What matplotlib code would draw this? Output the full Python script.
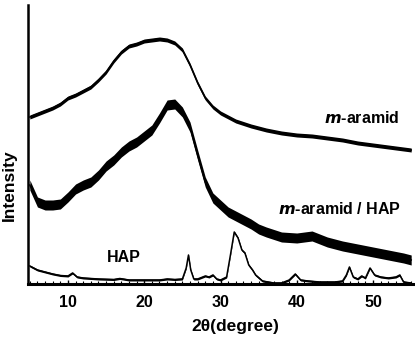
import numpy as np
import matplotlib
matplotlib.use('Agg')
import matplotlib.pyplot as plt
from matplotlib.ticker import MultipleLocator

plt.rcParams['font.family'] = ['Liberation Sans', 'DejaVu Sans']
plt.rcParams['font.weight'] = 'bold'

# XRD patterns (arbitrary intensity units)
two_theta_aramid = [5, 6, 7, 8, 9, 10, 11, 12, 13, 14, 15, 16, 17, 18, 19, 20,
                    21, 22, 23, 24, 25, 26, 27, 28, 29, 30, 32, 34, 36, 38, 40,
                    42, 44, 46, 48, 50, 52, 54, 55]
i_aramid = [167, 170, 173, 176, 180, 186, 189, 193, 197, 204, 212, 223, 232,
            238, 240, 243, 244, 245, 244, 241, 234, 219, 201, 186, 177, 171,
            163, 158, 154, 151, 149, 148, 146, 144, 141, 139, 137, 135, 134]

two_theta_blend = [5, 6, 7, 8, 9, 10, 11, 12, 13, 14, 15, 16, 17, 18, 19, 20,
                   21, 22, 23, 24, 25, 26, 27, 28, 29, 30, 31, 32, 33, 34, 35,
                   36, 38, 40, 42, 44, 46, 48, 50, 52, 54, 55]
i_blend = [99, 82, 79, 79, 80, 87, 95, 99, 102, 109, 118, 124, 132, 138, 142,
           148, 154, 166, 179, 180, 172, 157, 129, 102, 86, 79, 72, 68, 64, 60,
           55, 52, 47, 46, 48, 42, 38, 35, 32, 29, 26, 24]

two_theta_hap = [5, 6, 7, 8, 9, 10, 10.6, 11.2, 12, 14, 16, 16.8, 18, 20, 22,
                 23, 24, 25, 25.5, 25.8, 26.1, 26.5, 27, 28, 28.5, 29, 29.5,
                 30, 30.8, 31.3, 31.8, 32.3, 32.8, 33.2, 33.7, 34.2, 34.6, 35.5,
                 37, 38, 39, 39.8, 40.5, 41.5, 43, 45, 46, 46.5, 46.9, 47.4, 48,
                 48.5, 49, 49.6, 50.2, 51, 52, 53, 53.5, 54, 55]
i_hap = [18, 14, 12, 10, 8.5, 8, 11, 7, 6, 5, 4.5, 5.5, 4, 4, 4, 5, 4.5, 5,
         16, 29, 14, 5, 5, 8, 7, 9, 5, 4, 7, 29, 52, 46, 34, 31, 19, 14, 9, 3,
         1, 1, 4, 10, 4, 3, 2, 2, 3, 9, 17, 7, 5, 8, 6, 16, 9, 7, 6, 7, 9, 2, 1]

curves = [
    (two_theta_aramid, i_aramid, 2.0),
    (two_theta_blend, i_blend, 5.0),
    (two_theta_hap, i_hap, 1.0),
]

fig = plt.figure(figsize=(4.15, 3.37), dpi=100)
ax = fig.add_axes([28 / 415, 53 / 337, 387 / 415, 279 / 337])

for x, y, half in curves:
    x = np.array(x)
    y = np.array(y, dtype=float)
    ax.fill_between(x, y - half, y + half, color='black', lw=0)
    ax.plot(x, y, color='black', lw=1.1)

ax.set_xlim(4.76, 55.5)
ax.set_ylim(0, 279)

ax.spines['top'].set_visible(False)
ax.spines['right'].set_visible(False)
ax.spines['left'].set_linewidth(1.8)
ax.spines['bottom'].set_linewidth(2.2)
ax.set_yticks([])
ax.set_xticks([10, 20, 30, 40, 50])
ax.xaxis.set_minor_locator(MultipleLocator(1))
ax.tick_params(axis='x', which='major', direction='in', length=3, width=1,
               labelsize=11.5, pad=8)
ax.tick_params(axis='x', which='minor', direction='in', length=2, width=0.8)
for lab in ax.get_xticklabels():
    lab.set_fontweight('bold')

ax.set_xlabel('2\u03b8(degree)', fontsize=12.5, fontweight='bold', labelpad=5)
ax.xaxis.set_label_coords(0.535, -0.125)
ax.set_ylabel('Intensity', fontsize=12.5, fontweight='bold')
ax.yaxis.set_label_coords(-0.03, 0.355)

ax.text(48.5, 166, '$\\mathbf{\\mathit{m}}$-aramid', fontsize=11.5,
        fontweight='bold', ha='center', va='center')
ax.text(45.6, 75, '$\\mathbf{\\mathit{m}}$-aramid / HAP', fontsize=11.5,
        fontweight='bold', ha='center', va='center')
ax.text(17.3, 26, 'HAP', fontsize=11.5, fontweight='bold',
        ha='center', va='center')

fig.savefig('out.png', dpi=100)
